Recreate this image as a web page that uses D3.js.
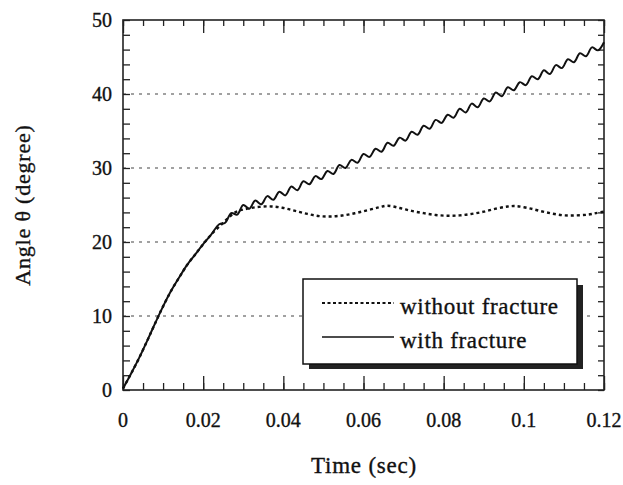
<!DOCTYPE html>
<html>
<head>
<meta charset="utf-8">
<script src="https://cdn.jsdelivr.net/npm/d3@7"></script>
<style>
  body { margin: 0; background: #fff; }
  text { font-family: "Liberation Serif", "DejaVu Serif", serif; fill: #111; stroke: #111; stroke-width: 0.35px; }
</style>
</head>
<body>
<svg id="chart" width="623" height="485"></svg>
<script>
// values (time in sec, angle in degree)
const xTicks = [0, 0.02, 0.04, 0.06, 0.08, 0.1, 0.12];
const xTickLabels = ["0", "0.02", "0.04", "0.06", "0.08", "0.1", "0.12"];
const yTicks = [0, 10, 20, 30, 40, 50];
const gridValues = [10, 20, 30, 40];
const seriesNames = ["without fracture", "with fracture"];

const withFracture = [
  [0, 0.2], [0.002, 2.2], [0.004, 4.3], [0.006, 6.6], [0.008, 9.0], [0.010, 11.3],
  [0.012, 13.4], [0.014, 15.2], [0.016, 16.9], [0.018, 18.3], [0.020, 19.7], [0.022, 21.0],
  [0.0240, 22.4], [0.0255, 22.6], [0.0270, 23.9], [0.0285, 23.7], [0.0300, 25.0], [0.0315, 24.5],
  [0.0330, 25.6], [0.0345, 25.1], [0.0360, 26.2], [0.0375, 25.7], [0.0390, 26.8], [0.0405, 26.3],
  [0.0420, 27.5], [0.0435, 27.0], [0.0450, 28.2], [0.0465, 27.8], [0.0480, 28.9], [0.0495, 28.5],
  [0.0510, 29.6], [0.0525, 29.2], [0.0540, 30.4], [0.0555, 30.0], [0.0570, 31.1], [0.0585, 30.7],
  [0.0600, 31.9], [0.0615, 31.5], [0.0630, 32.6], [0.0645, 32.2], [0.0660, 33.4], [0.0675, 33.0],
  [0.0690, 34.1], [0.0705, 33.7], [0.0720, 34.9], [0.0735, 34.5], [0.0750, 35.7], [0.0765, 35.3],
  [0.0780, 36.5], [0.0795, 36.1], [0.0810, 37.2], [0.0825, 36.8], [0.0840, 38.0], [0.0855, 37.5],
  [0.0870, 38.7], [0.0885, 38.2], [0.0900, 39.4], [0.0915, 39.0], [0.0930, 40.2], [0.0945, 39.7],
  [0.0960, 40.9], [0.0975, 40.5], [0.0990, 41.6], [0.1005, 41.2], [0.1020, 42.4], [0.1035, 42.0],
  [0.1050, 43.2], [0.1065, 42.7], [0.1080, 43.9], [0.1095, 43.5], [0.1110, 44.7], [0.1125, 44.3],
  [0.1140, 45.5], [0.1155, 45.1], [0.1170, 46.3], [0.1185, 45.9], [0.1200, 47.0]
];

const withoutFracture = [
  [0, 0.2], [0.002, 2.2], [0.004, 4.3], [0.006, 6.6], [0.008, 9.0], [0.010, 11.3],
  [0.012, 13.4], [0.014, 15.2], [0.016, 16.9], [0.018, 18.3], [0.020, 19.7], [0.022, 21.0],
  [0.025, 22.6], [0.028, 24.0], [0.031, 24.5], [0.034, 24.75], [0.037, 24.8], [0.040, 24.6],
  [0.043, 24.2], [0.046, 23.8], [0.049, 23.5], [0.052, 23.45], [0.055, 23.6], [0.058, 23.9],
  [0.061, 24.3], [0.064, 24.7], [0.066, 24.9], [0.069, 24.6], [0.072, 24.2], [0.075, 23.9],
  [0.078, 23.65], [0.081, 23.55], [0.084, 23.6], [0.087, 23.8], [0.090, 24.1], [0.093, 24.5],
  [0.096, 24.8], [0.098, 24.85], [0.101, 24.6], [0.104, 24.2], [0.107, 23.85], [0.110, 23.6],
  [0.113, 23.6], [0.116, 23.7], [0.118, 23.9], [0.120, 24.1]
];

const svg = d3.select("#chart");

const plotLeft = 123, plotRight = 604, plotTop = 20, plotBottom = 390;

const x = d3.scaleLinear().domain([0, 0.12]).range([plotLeft, plotRight]);
const y = d3.scaleLinear().domain([0, 50]).range([plotBottom, plotTop]);

// dashed grid lines
svg.selectAll(".grid")
  .data(gridValues)
  .enter()
  .append("line")
  .attr("x1", plotLeft)
  .attr("x2", plotRight - 14)
  .attr("y1", d => y(d))
  .attr("y2", d => y(d))
  .attr("stroke", "#444")
  .attr("stroke-width", 1.2)
  .attr("stroke-dasharray", "3,5");

// ticks, all pointing inward
function tickAxis(axis, tf) {
  const g = svg.append("g").attr("transform", tf).call(axis);
  g.select(".domain").remove();
  g.selectAll("line").attr("stroke", "#222").attr("stroke-width", 1.3);
  g.selectAll("text").remove();
  return g;
}

const xMinor = d3.range(0, 0.1201, 0.005);
const yMinor = d3.range(0, 50.01, 2);

tickAxis(d3.axisBottom(x).tickValues(xMinor).tickSize(-7), `translate(0,${plotBottom})`);
tickAxis(d3.axisBottom(x).tickValues(xTicks).tickSize(-14), `translate(0,${plotBottom})`);
tickAxis(d3.axisTop(x).tickValues(xMinor).tickSize(-6), `translate(0,${plotTop})`);
tickAxis(d3.axisTop(x).tickValues(xTicks).tickSize(-13), `translate(0,${plotTop})`);
tickAxis(d3.axisLeft(y).tickValues(yMinor).tickSize(-7), `translate(${plotLeft},0)`);
tickAxis(d3.axisRight(y).tickValues(yMinor).tickSize(-6), `translate(${plotRight},0)`);

// frame
svg.append("rect")
  .attr("x", plotLeft).attr("y", plotTop)
  .attr("width", plotRight - plotLeft).attr("height", plotBottom - plotTop)
  .attr("fill", "none")
  .attr("stroke", "#222")
  .attr("stroke-width", 1.6);

// tick labels
svg.selectAll(".xlab")
  .data(xTicks)
  .enter()
  .append("text")
  .attr("x", d => x(d))
  .attr("y", 427)
  .attr("text-anchor", "middle")
  .attr("font-size", 20)
  .text((d, i) => xTickLabels[i]);

svg.selectAll(".ylab")
  .data(yTicks)
  .enter()
  .append("text")
  .attr("x", 112)
  .attr("y", d => y(d) + 7)
  .attr("text-anchor", "end")
  .attr("font-size", 20)
  .text(d => d);

// axis titles
svg.append("text")
  .attr("x", 364)
  .attr("y", 473)
  .attr("text-anchor", "middle")
  .attr("font-size", 23)
  .attr("letter-spacing", 0.8)
  .text("Time (sec)");

svg.append("text")
  .attr("transform", "translate(30,205) rotate(-90)")
  .attr("text-anchor", "middle")
  .attr("font-size", 22)
  .attr("letter-spacing", 0.8)
  .text("Angle \u03b8 (degree)");

// curves
const line = d3.line()
  .x(d => x(d[0]))
  .y(d => y(d[1]))
  .curve(d3.curveCatmullRom);

svg.append("path")
  .datum(withoutFracture)
  .attr("d", line)
  .attr("fill", "none")
  .attr("stroke", "#111")
  .attr("stroke-width", 2.4)
  .attr("stroke-dasharray", "3,3");

svg.append("path")
  .datum(withFracture)
  .attr("d", line)
  .attr("fill", "none")
  .attr("stroke", "#111")
  .attr("stroke-width", 2);

// legend with drop shadow
const lg = svg.append("g");
lg.append("rect")
  .attr("x", 309).attr("y", 285)
  .attr("width", 274).attr("height", 84)
  .attr("fill", "#222");
lg.append("rect")
  .attr("x", 303).attr("y", 279)
  .attr("width", 274).attr("height", 85)
  .attr("fill", "#fff")
  .attr("stroke", "#111")
  .attr("stroke-width", 1.5);

const legendY = [303, 337];
lg.selectAll(".lgline")
  .data(seriesNames)
  .enter()
  .append("line")
  .attr("x1", 322)
  .attr("x2", 394)
  .attr("y1", (d, i) => legendY[i])
  .attr("y2", (d, i) => legendY[i])
  .attr("stroke", "#111")
  .attr("stroke-width", d => d === "with fracture" ? 1.6 : 1.8)
  .attr("stroke-dasharray", d => d === "with fracture" ? null : "3,2.5");

lg.selectAll(".lgtext")
  .data(seriesNames)
  .enter()
  .append("text")
  .attr("x", 400)
  .attr("y", (d, i) => legendY[i] + 11)
  .attr("font-size", 23)
  .attr("letter-spacing", 0.7)
  .text(d => d);
</script>
</body>
</html>
